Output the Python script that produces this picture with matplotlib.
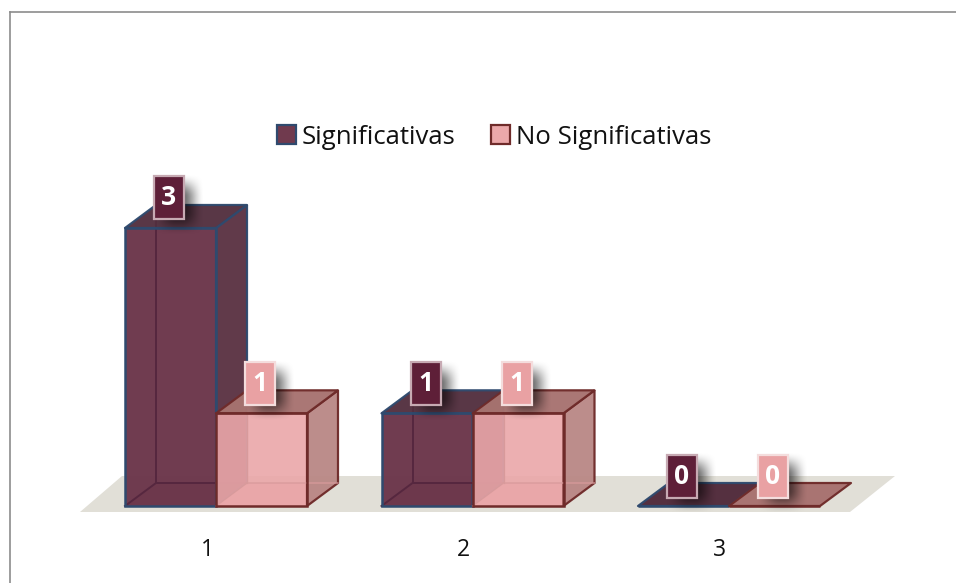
import matplotlib
matplotlib.use('Agg')
import matplotlib.pyplot as plt
import numpy as np
from matplotlib.patches import Polygon, Rectangle, Patch
from matplotlib.lines import Line2D

categories = ['1', '2', '3']
series_names = ['Significativas', 'No Significativas']
significativas = [3, 1, 0]
no_significativas = [1, 1, 0]

W, H = 956, 583
FLOOR_PX = 512       # bottom of the axes, front edge of the floor
BASE_PX = 506        # pixel row of value 0
PX_X = 256.5         # pixels per category
PX_Y = 92.67         # pixels per unit of value
X0_PX = 207          # pixel column of the first category

BAR_W = 91 / PX_X
BAR_OFF = -82 / PX_X
DX = 31 / PX_X
DY = 23 / PX_Y

styles = [
    dict(front='#6d384c', side='#5c3344', top='#543040', edge='#2f4a6e', inner='#56273f',
         box='#5e1f38', box_edge='#c7aab3', swatch='#703a4e', alpha=0.98, inner_lw=1.4),
    dict(front='#eaa7a9', side='#ba8987', top='#a77370', edge='#6f2b2a', inner='#d89a9b',
         box='#e9a1a3', box_edge='#f4dddd', swatch='#eba8aa', alpha=0.9, inner_lw=0.9),
]

plt.rcParams['font.family'] = ['Open Sans', 'DejaVu Sans']
fig = plt.figure(figsize=(W / 100, H / 100), dpi=100)
ax = fig.add_axes([0, 1 - FLOOR_PX / H, 1, FLOOR_PX / H])
x_lo = 1 - X0_PX / PX_X
xlim = (x_lo, x_lo + W / PX_X)
ylim = (-(FLOOR_PX - BASE_PX) / PX_Y, BASE_PX / PX_Y)
for s in ax.spines.values():
    s.set_visible(False)
ax.set_yticks([])
ax.set_xticks([1, 2, 3], categories)
ax.tick_params(axis='x', length=0, pad=19, labelsize=16.5, labelcolor='#111111')


def px_point(x_px, y_px):
    """Pixel position to data coordinates."""
    return x_lo + x_px / PX_X, (BASE_PX - y_px) / PX_Y


# floor under the bars
floor = [px_point(80, 512), px_point(850, 512), px_point(895, 476), px_point(122, 476)]
ax.add_patch(Polygon(floor, closed=True, fc='#e1dfd7', ec='none', zorder=1))


def draw_bar(x, h, st, z):
    r = x + BAR_W
    # inside faces and hidden edges show through the bar
    ax.add_patch(Polygon([(x, 0), (r, 0), (r + DX, DY), (x + DX, DY)], fc=st['front'],
                         ec='none', alpha=0.92, zorder=z))
    if h > 0:
        ax.add_patch(Rectangle((x, 0), BAR_W, h, fc=st['front'], ec='none', alpha=st['alpha'], zorder=z + 0.1))
        ax.add_patch(Polygon([(r, 0), (r + DX, DY), (r + DX, h + DY), (r, h)], fc=st['side'],
                             ec=st['edge'], lw=1.6, alpha=0.97, zorder=z + 0.1))
        ax.plot([x + DX, x + DX], [DY, h + DY], color=st['inner'], lw=st['inner_lw'], zorder=z + 0.2)
        ax.plot([x, x + DX, r + DX], [0, DY, DY], color=st['inner'], lw=st['inner_lw'], zorder=z + 0.2)
    ax.add_patch(Polygon([(x, h), (r, h), (r + DX, h + DY), (x + DX, h + DY)], fc=st['top'],
                         ec=st['edge'], lw=1.6, alpha=0.97, joinstyle='round', zorder=z + 0.3))
    ax.add_patch(Rectangle((x, 0), BAR_W, h, fc='none', ec=st['edge'], lw=1.8, zorder=z + 0.4))


def soft_shadow(x0, y0, w, h, blur=12.0, strength=0.62):
    """Blurred black box as an RGBA image, sizes in pixels, origin lower left."""
    pad = 2 * blur
    xs = np.arange(-pad, w + pad)
    ys = np.arange(-pad, h + pad)

    def ramp(t):
        t = np.clip((t + blur) / (2 * blur), 0, 1)
        return t * t * (3 - 2 * t)

    a_x = ramp(xs) * ramp(w - xs)
    a_y = ramp(ys) * ramp(h - ys)
    rgba = np.zeros((len(ys), len(xs), 4))
    rgba[..., 3] = strength * np.outer(a_y, a_x)
    ax.imshow(rgba, origin='lower', aspect='auto', interpolation='bilinear', zorder=20,
              extent=(x0 - pad / PX_X, x0 + (w + pad) / PX_X, y0 - pad / PX_Y, y0 + (h + pad) / PX_Y))


def draw_label(x, h, value, st):
    cx = x + 44 / PX_X
    cy = h + 30 / PX_Y
    bw, bh = 30 / PX_X, 43 / PX_Y
    soft_shadow(cx - bw / 2 + 10 / PX_X, cy - bh / 2 - 5 / PX_Y, 28, 38)
    ax.add_patch(Rectangle((cx - bw / 2, cy - bh / 2), bw, bh, fc=st['box'], ec=st['box_edge'],
                           lw=1.6, zorder=21))
    ax.text(cx, cy, str(value), color='white', fontsize=19, fontweight='bold',
            ha='center', va='center', zorder=22)


for i, cat_x in enumerate([1, 2, 3]):
    for j, values in enumerate([significativas, no_significativas]):
        left = cat_x + BAR_OFF + j * BAR_W
        draw_bar(left, values[i], styles[j], 3 + j)

for i, cat_x in enumerate([1, 2, 3]):
    for j, values in enumerate([significativas, no_significativas]):
        left = cat_x + BAR_OFF + j * BAR_W
        draw_label(left, values[i], values[i], styles[j])

ax.set_xlim(xlim)
ax.set_ylim(ylim)

handles = [Patch(fc=styles[0]['swatch'], ec=styles[0]['edge'], lw=1.6),
           Patch(fc=styles[1]['swatch'], ec=styles[1]['edge'], lw=1.6)]
fig.legend(handles, series_names, ncol=2, frameon=False, fontsize=18.5,
           loc='center', bbox_to_anchor=(494 / W, 1 - 137 / H),
           handlelength=0.74, handleheight=0.74, handletextpad=0.23, columnspacing=1.4,
           labelcolor='#111111')

# outer frame, top and left only
fig.add_artist(Line2D([9.5 / W, 9.5 / W], [0, 1 - 11.5 / H], color='#8c8c8c', lw=1.2))
fig.add_artist(Line2D([9.5 / W, 1], [1 - 11.5 / H, 1 - 11.5 / H], color='#8c8c8c', lw=1.2))

fig.savefig('out.png', dpi=100, facecolor='white')
plt.close(fig)
